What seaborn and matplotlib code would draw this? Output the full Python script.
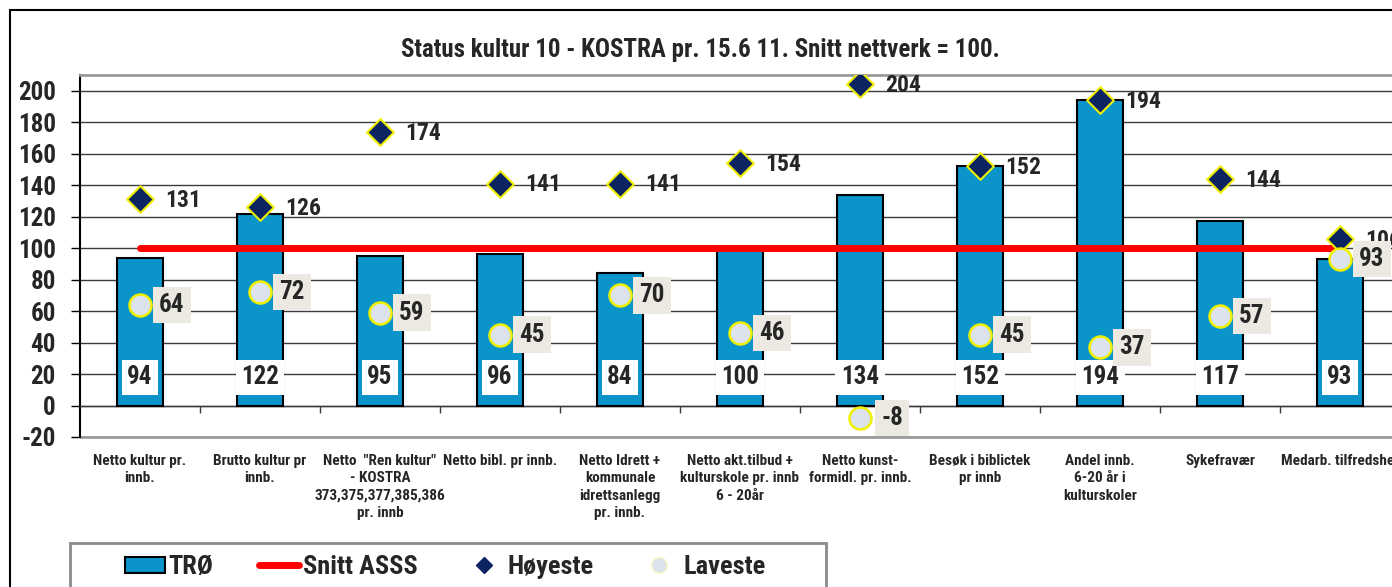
import numpy as np
import pandas as pd
import matplotlib
matplotlib.use("Agg")
import matplotlib.pyplot as plt
import seaborn as sns
from matplotlib.patches import Rectangle, Patch
from matplotlib.lines import Line2D

# ---------------- data ----------------
categories = [
    "Netto kultur pr.\ninnb.",
    "Brutto kultur pr\ninnb.",
    'Netto  "Ren kultur"\n- KOSTRA\n373,375,377,385,386\npr. innb',
    "Netto bibl. pr innb.",
    "Netto Idrett +\nkommunale\nidrettsanlegg\npr. innb.",
    "Netto akt.tilbud +\nkulturskole pr. innb\n6 - 20år",
    "Netto kunst-\nformidl. pr. innb.",
    "Besøk i biblictek\npr innb",
    "Andel innb.\n6-20 år i\nkulturskoler",
    "Sykefravær",
    "Medarb. tilfredshet",
]
tro = [94, 122, 95, 96, 84, 100, 134, 152, 194, 117, 93]
hoyeste = [131, 126, 174, 141, 141, 154, 204, 152, 194, 144, 106]
laveste = [64, 72, 59, 45, 70, 46, -8, 45, 37, 57, 93]
snitt = [100] * 11
yticks = list(range(-20, 201, 20))
title = "Status kultur 10 - KOSTRA pr. 15.6 11. Snitt nettverk = 100."
legend_labels = ["TRØ", "Snitt ASSS", "Høyeste", "Laveste"]

# ---------------- style ----------------
BLUE = "#0A94C9"
NAVY = "#0C2461"
YELLOW = "#F0F000"
CIRCLE = "#DCE2EE"
LBOX = "#EBE9E1"

sns.set_theme(style="white")
plt.rcParams["font.family"] = ["Liberation Sans Narrow", "Arial Narrow", "Roboto Condensed",
                               "IBM Plex Sans Condensed", "DejaVu Sans"]
plt.rcParams["font.weight"] = "bold"

W, H = 1392, 587
fig = plt.figure(figsize=(W / 100, H / 100), dpi=100)
ax = fig.add_axes([80 / W, 150 / H, 1320 / W, 362 / H])

idx = np.arange(len(categories))
df = pd.DataFrame({"cat": categories, "pos": idx, "TRØ": tro,
                   "Høyeste": hoyeste, "Laveste": laveste, "Snitt": snitt})

sns.barplot(data=df, x="cat", y="TRØ", color=BLUE, saturation=1, width=0.39,
            edgecolor="black", linewidth=1.5, ax=ax, zorder=3)
sns.lineplot(data=df, x="pos", y="Snitt", color="#FF0000", linewidth=5,
             ax=ax, zorder=4)
sns.scatterplot(data=df, x="pos", y="Høyeste", marker="D", s=185, color=NAVY,
                edgecolor=YELLOW, linewidth=1.5, ax=ax, zorder=6)
sns.scatterplot(data=df, x="pos", y="Laveste", marker="o", s=250, color=CIRCLE,
                edgecolor=YELLOW, linewidth=1.8, ax=ax, zorder=6)

# value labels
for i, v in enumerate(tro):
    ax.text(i, 18, str(v), ha="center", va="center", fontsize=18, zorder=7,
            bbox=dict(boxstyle="square,pad=0.22", fc="white", ec="none"))
for i, v in enumerate(hoyeste):
    ax.annotate(str(v), (i, v), xytext=(18, -1), textcoords="offset points",
                ha="left", va="center", fontsize=17, zorder=7)
for i, v in enumerate(laveste):
    ax.annotate(str(v), (i, v), xytext=(23, 0), textcoords="offset points",
                ha="center", va="center", fontsize=18, zorder=8,
                bbox=dict(boxstyle="square,pad=0.25", fc=LBOX, ec="none"))

# axes
ax.set_xlim(-0.5, len(categories) - 0.5)
ax.set_ylim(-20, 210)
ax.set_yticks(yticks)
ax.set_yticklabels([str(t) for t in yticks], fontsize=18, fontweight="bold")
ax.yaxis.grid(True, color="#3C3C3C", linewidth=1)
ax.set_axisbelow(True)
ax.set_xlabel("")
ax.set_ylabel("")

ax.spines["bottom"].set_position(("data", 0))
ax.spines["bottom"].set_color("#3C3C3C")
ax.spines["bottom"].set_linewidth(1)
ax.spines["left"].set_color("black")
ax.spines["left"].set_linewidth(1.5)
ax.spines["top"].set_color("#9A9A9A")
ax.spines["top"].set_linewidth(2)
ax.spines["right"].set_visible(False)
ax.axhline(-20, color="#9A9A9A", linewidth=2, clip_on=False, zorder=1)

ax.set_xticks(idx)
ax.set_xticklabels(categories, fontsize=11, fontweight="bold", linespacing=1.3,
                   va="top")
ax.set_xticks(idx + 0.5, minor=True)
ax.tick_params(axis="x", which="major", length=0, pad=35)
ax.tick_params(axis="x", which="minor", length=5, width=1, color="#3C3C3C",
               direction="out", bottom=True)
ax.tick_params(axis="y", length=6.5, width=1, color="black", pad=11, left=True,
               direction="out")

fig.text(0.503, 1 - 50 / H, title, ha="center", va="center", fontsize=18,
         fontweight="bold")

# frames
fig.add_artist(Rectangle((10 / W, -0.1), 2, 1.1 - 10 / H, transform=fig.transFigure,
                         fc="none", ec="black", lw=1.5, zorder=0))
fig.add_artist(Rectangle((70 / W, -0.1), (826 - 70) / W, 0.1 + (587 - 543) / H,
                         transform=fig.transFigure, fc="white", ec="#8A8A8A",
                         lw=2, zorder=1))

handles = [
    Patch(fc=BLUE, ec="black", lw=1.5, label=legend_labels[0]),
    Line2D([], [], color="#FF0000", lw=5, label=legend_labels[1]),
    Line2D([], [], marker="D", ls="none", ms=8, mfc=NAVY, mec=NAVY, label=legend_labels[2]),
    Line2D([], [], marker="o", ls="none", ms=11, mfc=CIRCLE, mec="#F4F4C0", label=legend_labels[3]),
]
leg = fig.legend(handles=handles, loc="center left", ncol=4,
                 bbox_to_anchor=(125 / W, 1 - 567 / H), frameon=False,
                 prop=dict(size=19, weight="bold"), handlelength=1.5,
                 handleheight=0.55, handletextpad=0.15, columnspacing=1.75,
                 borderaxespad=0, borderpad=0)
leg.set_zorder(3)

fig.savefig("out.png", dpi=100, facecolor="white")
